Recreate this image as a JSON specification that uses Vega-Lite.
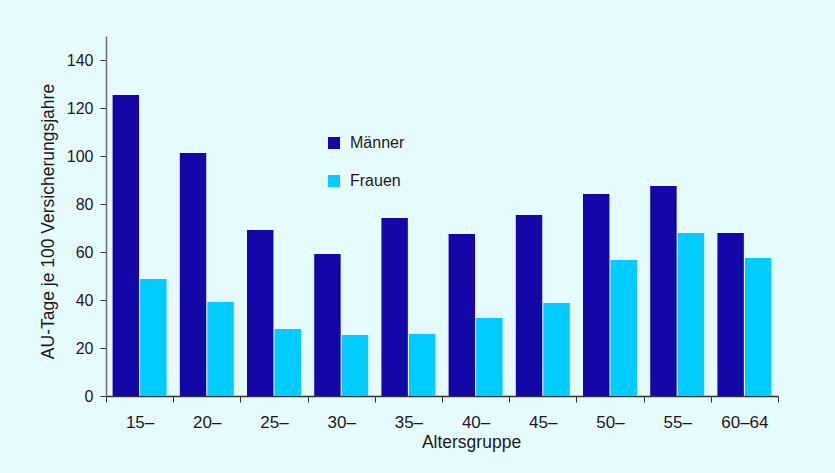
{
  "$schema": "https://vega.github.io/schema/vega-lite/v6.json",
  "width": 672,
  "height": 360,
  "autosize": {"type": "none"},
  "padding": {"left": 106, "top": 36, "right": 57, "bottom": 77},
  "background": "#e6fbfe",
  "config": {
    "view": {"stroke": null},
    "font": "Liberation Sans",
    "axis": {"labelColor": "#1a1a1a", "titleColor": "#1a1a1a", "titleFontWeight": "normal", "grid": false}
  },
  "data": {
    "values": [
      {"Altersgruppe": "15–", "Geschlecht": "Männer", "Wert": 125.4},
      {"Altersgruppe": "15–", "Geschlecht": "Frauen", "Wert": 48.8},
      {"Altersgruppe": "20–", "Geschlecht": "Männer", "Wert": 101.3},
      {"Altersgruppe": "20–", "Geschlecht": "Frauen", "Wert": 39.2},
      {"Altersgruppe": "25–", "Geschlecht": "Männer", "Wert": 69.2},
      {"Altersgruppe": "25–", "Geschlecht": "Frauen", "Wert": 27.9},
      {"Altersgruppe": "30–", "Geschlecht": "Männer", "Wert": 59.2},
      {"Altersgruppe": "30–", "Geschlecht": "Frauen", "Wert": 25.4},
      {"Altersgruppe": "35–", "Geschlecht": "Männer", "Wert": 74.2},
      {"Altersgruppe": "35–", "Geschlecht": "Frauen", "Wert": 25.8},
      {"Altersgruppe": "40–", "Geschlecht": "Männer", "Wert": 67.5},
      {"Altersgruppe": "40–", "Geschlecht": "Frauen", "Wert": 32.5},
      {"Altersgruppe": "45–", "Geschlecht": "Männer", "Wert": 75.4},
      {"Altersgruppe": "45–", "Geschlecht": "Frauen", "Wert": 38.8},
      {"Altersgruppe": "50–", "Geschlecht": "Männer", "Wert": 84.2},
      {"Altersgruppe": "50–", "Geschlecht": "Frauen", "Wert": 56.7},
      {"Altersgruppe": "55–", "Geschlecht": "Männer", "Wert": 87.5},
      {"Altersgruppe": "55–", "Geschlecht": "Frauen", "Wert": 67.9},
      {"Altersgruppe": "60–64", "Geschlecht": "Männer", "Wert": 67.9},
      {"Altersgruppe": "60–64", "Geschlecht": "Frauen", "Wert": 57.5}
    ]
  },
  "mark": {"type": "bar"},
  "encoding": {
    "x": {
      "field": "Altersgruppe",
      "type": "nominal",
      "sort": null,
      "scale": {"paddingInner": 0, "paddingOuter": 0},
      "axis": {
        "title": "Altersgruppe",
        "labelAngle": 0,
        "labelFontSize": 17,
        "labelPadding": 12,
        "titleFontSize": 17.5,
        "titlePadding": 3,
        "titleX": 365,
        "tickBand": "extent",
        "tickSize": 6,
        "tickColor": "#333333",
        "domainColor": "#333333",
        "domainWidth": 1.5
      }
    },
    "xOffset": {
      "field": "Geschlecht",
      "type": "nominal",
      "sort": ["Männer", "Frauen"],
      "scale": {"paddingInner": 0.04, "paddingOuter": 0.24}
    },
    "y": {
      "field": "Wert",
      "type": "quantitative",
      "scale": {"domain": [0, 150], "nice": false},
      "axis": {
        "title": "AU-Tage je 100 Versicherungsjahre",
        "values": [0, 20, 40, 60, 80, 100, 120, 140],
        "labelFontSize": 16,
        "labelPadding": 7,
        "titleFontSize": 17.5,
        "titlePadding": 9,
        "titleY": 185,
        "tickSize": 6,
        "tickColor": "#333333",
        "domainColor": "#6e6e6e",
        "domainWidth": 1.5
      }
    },
    "color": {
      "field": "Geschlecht",
      "type": "nominal",
      "scale": {"domain": ["Männer", "Frauen"], "range": ["#1407a8", "#00ccff"]},
      "legend": {
        "title": null,
        "orient": "none",
        "legendX": 220,
        "legendY": 98,
        "symbolType": "square",
        "symbolSize": 144,
        "symbolStrokeWidth": 0,
        "labelFontSize": 16,
        "labelColor": "#1a1a1a",
        "labelOffset": 8,
        "clipHeight": 18,
        "rowPadding": 20
      }
    }
  }
}
